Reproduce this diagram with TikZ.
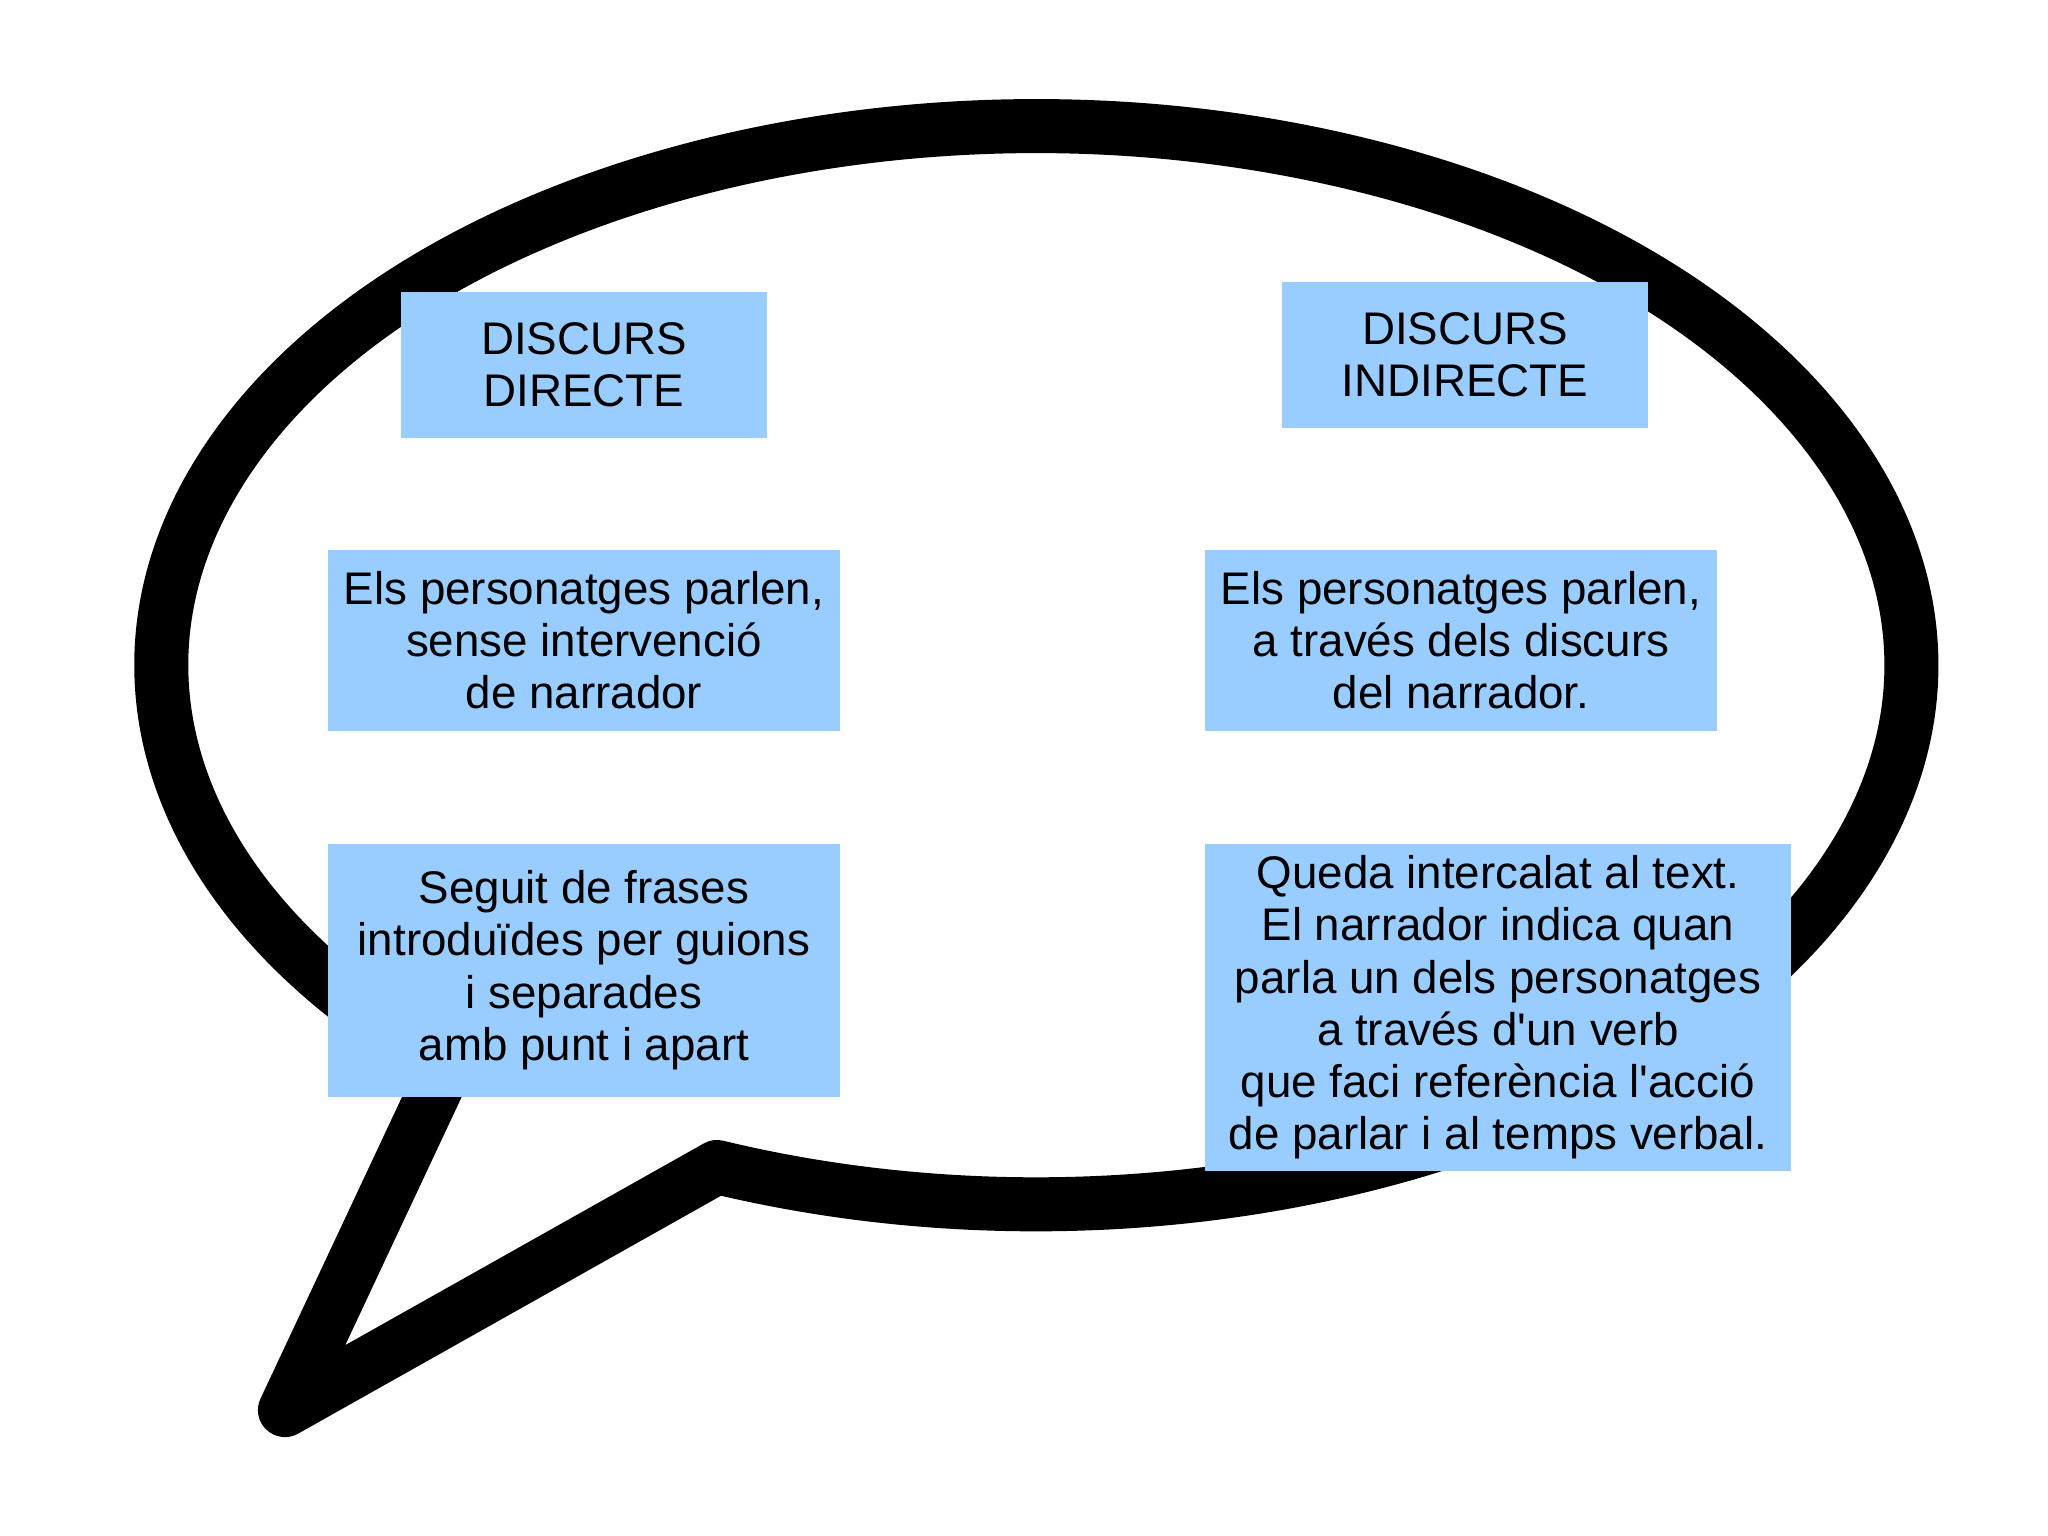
\documentclass[tikz,border=0pt]{standalone}
\usepackage{fontspec}
\setmainfont{Liberation Sans}
\usetikzlibrary{positioning}
\definecolor{boxblue}{RGB}{153,204,255}
\tikzstyle{box} = [rectangle, fill=boxblue, inner sep=2pt, align=center,
font=\fontsize{13}{14.8}\selectfont, node distance=1.11cm]
\tikzstyle{head} = [box, minimum width=3.65cm, minimum height=1.45cm]
\tikzstyle{bubble} = [draw=black, line width=0.54cm, line join=round]

\begin{document}
\begin{tikzpicture}[x=0.01cm, y=-0.01cm]
  \useasboundingbox (0,0) rectangle (2048,1535);
  \draw[bubble] (717,1167) arc[start angle=111.4, end angle=-227.7,
    x radius=875, y radius=539] -- (285,1410) -- cycle;

  \node[head] (dd) at (584,365) {DISCURS\\DIRECTE};
  \node[head] (di) at (1465,355) {DISCURS\\INDIRECTE};

  \node[box, below=of dd, minimum width=5.11cm, minimum height=1.81cm] (pd)
    {Els personatges parlen,\\sense intervenció\\de narrador};
  \node[box, below=1.21cm of di, xshift=-0.04cm, minimum width=5.12cm,
    minimum height=1.81cm] (pi)
    {Els personatges parlen,\\a través dels discurs\\del narrador.};

  \node[box, below=of pd, minimum width=5.11cm, minimum height=2.53cm] (fd)
    {Seguit de frases\\introduïdes per guions\\i separades\\amb punt i apart};
  \node[box, below=of pi.south west, anchor=north west, minimum width=5.86cm,
    minimum height=3.27cm] (fi)
    {Queda intercalat al text.\\El narrador indica quan\\parla un dels personatges\\a través d\textquotesingle un verb\\que faci referència l\textquotesingle acció\\de parlar i al temps verbal.};
\end{tikzpicture}
\end{document}
